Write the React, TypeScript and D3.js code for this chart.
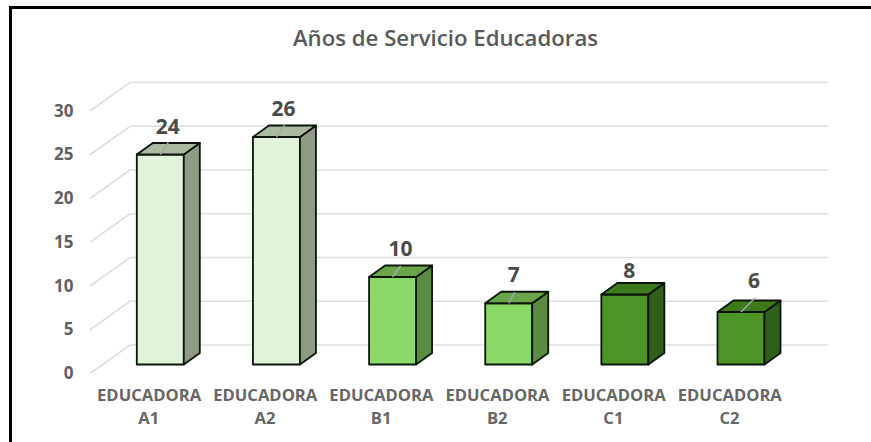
import React from "react";
import * as d3 from "d3";

const titleText = "Años de Servicio Educadoras";
const lineOne = ["EDUCADORA", "EDUCADORA", "EDUCADORA", "EDUCADORA", "EDUCADORA", "EDUCADORA"];
const lineTwo = ["A1", "A2", "B1", "B2", "C1", "C2"];
const values = [24, 26, 10, 7, 8, 6];
const groups = [0, 0, 1, 1, 2, 2];
const yTicks = [0, 5, 10, 15, 20, 25, 30];
const frontColors = ["#E0F3D8", "#8AD968", "#4E9528"];
const sideColors = ["#8E9B85", "#5A8B40", "#2F5F18"];
const topColors = ["#A9BAA0", "#6AA54C", "#3D7A1C"];

// Data label layout nudges (dx, dy from the bar's top-front centre)
const labelDx = [7.5, 7, 8, 5, 4.5, 13];
const labelDy = [-26.5, -26.5, -26.5, -26.5, -22.5, -29.5];
const leaderEnd: ([number, number] | null)[] = [[8, -12], [8, -12], [8, -11], [6, -11], null, [14, -14]];

const FONT = "'Open Sans', sans-serif";
const TEXT = "#595959";
const W = 871, H = 442;
const depthX = 16, depthY = -11.5;
const floorX0 = 90;
const wallDX = 40, wallDY = -28.5;

const x = d3.scalePoint<number>().domain(d3.range(6)).range([160.3, 741]);
// y gives the height on the front plane of the bars
const y = d3.scaleLinear().domain([0, 30]).range([364.5, 102]);
const wallY = d3.scaleLinear().domain([0, 30]).range([345, 82.5]);
const barW = 47;

export default function App() {
  const gridRight = 828;
  return (
    <svg width={W} height={H} style={{ position: "fixed", left: 0, top: 0, background: "#fff" }} fontFamily={FONT}>
      <rect x={0} y={0} width={W} height={H} fill="#fff" />
      <line x1={9} x2={W} y1={7.5} y2={7.5} stroke="#000" strokeWidth={3} />
      <line x1={10.5} x2={10.5} y1={6} y2={H} stroke="#000" strokeWidth={3} />
      <text x={445.5} y={45.5} textAnchor="middle" fontSize={22.2} fontWeight={600} fill={TEXT}>{titleText}</text>

      {yTicks.map((t) => {
        const yb = wallY(t);
        return (
          <g key={t}>
            <path d={`M${floorX0},${yb - wallDY}L${floorX0 + wallDX},${yb}H${gridRight}`} fill="none" stroke="#DEDEDE" strokeWidth={1.6} />
            <text x={73.5} y={yb - wallDY + 1.2} textAnchor="end" dominantBaseline="middle" fontSize={17} fontWeight={700} fill="#5f5f5f">{t}</text>
          </g>
        );
      })}

      {values.map((v, i) => {
        const x0 = x(i)! - barW / 2;
        const x1 = x0 + barW;
        const yt = y(v);
        const yb = y(0);
        const g = groups[i];
        const end = leaderEnd[i];
        return (
          <g key={i} stroke="#0c140a" strokeWidth={1.8} strokeLinejoin="round">
            <rect x={x0} y={yt} width={barW} height={yb - yt} fill={frontColors[g]} />
            <path d={`M${x1},${yt}l${depthX},${depthY}V${yb + depthY}L${x1},${yb}Z`} fill={sideColors[g]} />
            <path d={`M${x0},${yt}l${depthX},${depthY}H${x1 + depthX}L${x1},${yt}Z`} fill={topColors[g]} />
            {end && <line x1={x(i)!} y1={yt} x2={x(i)! + end[0]} y2={yt + end[1]} stroke="#A6A6A6" strokeWidth={1.5} />}
            <text x={x(i)! + labelDx[i]} y={yt + labelDy[i]} textAnchor="middle" dominantBaseline="middle" fontSize={21} fontWeight={700} fill="#4a4a4a" stroke="none">{v}</text>
          </g>
        );
      })}

      {lineOne.map((s, i) => (
        <g key={i} fontSize={16.6} fontWeight={700} fill="#666666" textAnchor="middle">
          <text x={x(i)! - 11.2} y={401}>{s}</text>
          <text x={x(i)! - 11.5} y={424}>{lineTwo[i]}</text>
        </g>
      ))}
    </svg>
  );
}
